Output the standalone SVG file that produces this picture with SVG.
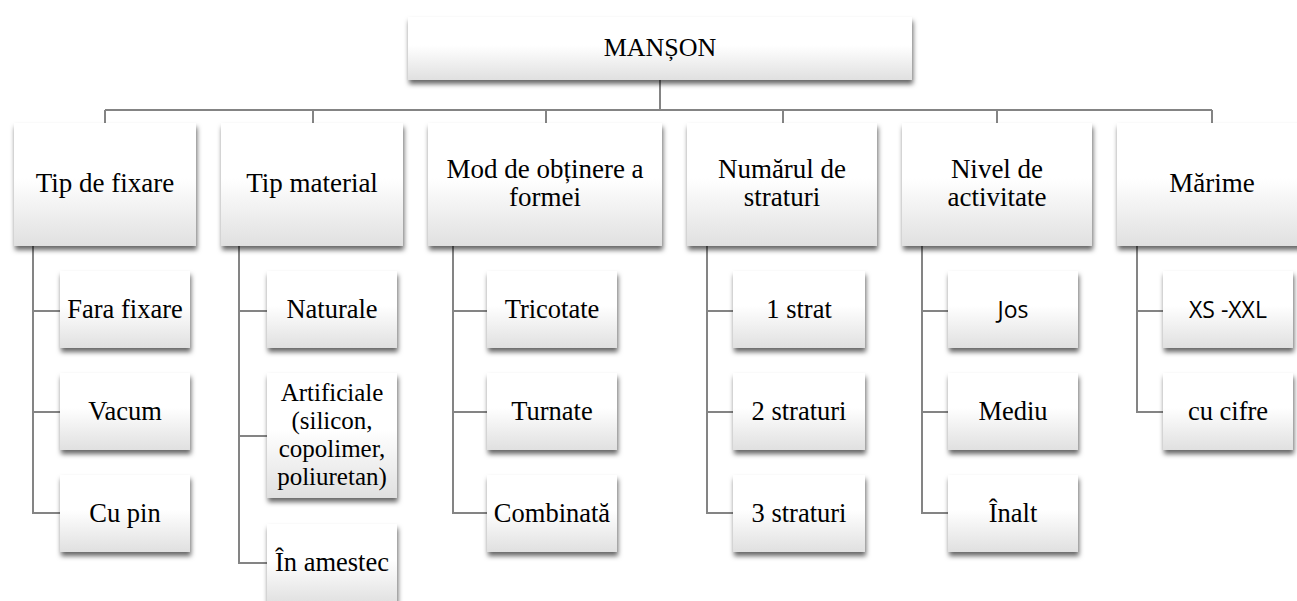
<svg xmlns="http://www.w3.org/2000/svg" width="1297" height="601" viewBox="0 0 1297 601">
<defs>
<linearGradient id="g" x1="0" y1="0" x2="0" y2="1">
<stop offset="0" stop-color="#ffffff"/>
<stop offset="0.45" stop-color="#ffffff"/>
<stop offset="1" stop-color="#e0e0e0"/>
</linearGradient>
<filter id="sh" x="-10%" y="-10%" width="125%" height="135%">
<feGaussianBlur in="SourceAlpha" stdDeviation="2.4"/>
<feOffset dx="1" dy="3.5" result="b"/>
<feFlood flood-color="#000" flood-opacity="0.6"/>
<feComposite in2="b" operator="in"/>
<feMerge><feMergeNode/><feMergeNode in="SourceGraphic"/></feMerge>
</filter>
<style>
.box{fill:url(#g);filter:url(#sh);}
.t{font-family:'Liberation Serif',Tinos,'DejaVu Serif',serif;font-size:26.5px;fill:#000;text-anchor:middle;}
.h{font-size:27px;}
.r{font-size:26px;}
.m{font-size:25px;}
.s{font-family:'Open Sans','Liberation Sans',sans-serif;font-size:23px;fill:#000;text-anchor:middle;}
.c{fill:none;stroke:#848484;stroke-width:2;}
</style>
</defs>
<rect width="1297" height="601" fill="#fff"/>
<g id="connectors">
<path class="c" d="M660 80V110M105 110H1212M105 110V123M313 110V123M546 110V123M783 110V123M997 110V123M1212 110V123"/>
<path class="c" d="M33 246V513H60M33 311H60M33 412H60"/>
<path class="c" d="M239 246V563H267M239 311H267M239 436H267"/>
<path class="c" d="M453 246V513H487M453 311H487M453 412H487"/>
<path class="c" d="M707 246V513H733M707 311H733M707 412H733"/>
<path class="c" d="M922 246V513H948M922 311H948M922 412H948"/>
<path class="c" d="M1137 246V412H1163M1137 311H1163"/>
</g>
<g id="root"><rect class="box" x="408" y="17" width="504" height="63"/><text class="t r" x="660" y="56">MANȘON</text></g>
<g id="n1"><rect class="box" x="14" y="123" width="182" height="123"/><text class="t h" x="105" y="192">Tip de fixare</text></g>
<g id="n2"><rect class="box" x="221" y="123" width="182" height="123"/><text class="t h" x="312" y="192">Tip material</text></g>
<g id="n3"><rect class="box" x="428" y="123" width="234" height="123"/><text class="t h" x="545" y="178">Mod de obținere a</text><text class="t h" x="545" y="206">formei</text></g>
<g id="n4"><rect class="box" x="687" y="123" width="190" height="123"/><text class="t h" x="782" y="178">Numărul de</text><text class="t h" x="782" y="206">straturi</text></g>
<g id="n5"><rect class="box" x="902" y="123" width="190" height="123"/><text class="t h" x="997" y="178">Nivel de</text><text class="t h" x="997" y="206">activitate</text></g>
<g id="n6"><rect class="box" x="1117" y="123" width="190" height="123"/><text class="t h" x="1212" y="192">Mărime</text></g>

<g id="c11"><rect class="box" x="60" y="271" width="130" height="77"/><text class="t" x="125" y="318">Fara fixare</text></g>
<g id="c12"><rect class="box" x="60" y="373" width="130" height="77"/><text class="t" x="125" y="420">Vacum</text></g>
<g id="c13"><rect class="box" x="60" y="475" width="130" height="77"/><text class="t" x="125" y="522">Cu pin</text></g>

<g id="c21"><rect class="box" x="267" y="271" width="130" height="77"/><text class="t" x="332" y="318">Naturale</text></g>
<g id="c22"><rect class="box" x="267" y="373" width="130" height="125"/><text class="t m" x="332" y="401">Artificiale</text><text class="t m" x="332" y="429">(silicon,</text><text class="t m" x="332" y="457">copolimer,</text><text class="t m" x="332" y="485">poliuretan)</text></g>
<g id="c23"><rect class="box" x="267" y="524" width="130" height="80"/><text class="t" x="332" y="571">În amestec</text></g>

<g id="c31"><rect class="box" x="487" y="271" width="130" height="77"/><text class="t" x="552" y="318">Tricotate</text></g>
<g id="c32"><rect class="box" x="487" y="373" width="130" height="77"/><text class="t" x="552" y="420">Turnate</text></g>
<g id="c33"><rect class="box" x="487" y="475" width="130" height="77"/><text class="t" x="552" y="522">Combinată</text></g>

<g id="c41"><rect class="box" x="733" y="271" width="132" height="77"/><text class="t" x="799" y="318">1 strat</text></g>
<g id="c42"><rect class="box" x="733" y="373" width="132" height="77"/><text class="t" x="799" y="420">2 straturi</text></g>
<g id="c43"><rect class="box" x="733" y="475" width="132" height="77"/><text class="t" x="799" y="522">3 straturi</text></g>

<g id="c51"><rect class="box" x="948" y="271" width="130" height="77"/><text class="s" x="1013" y="318">Jos</text></g>
<g id="c52"><rect class="box" x="948" y="373" width="130" height="77"/><text class="t" x="1013" y="420">Mediu</text></g>
<g id="c53"><rect class="box" x="948" y="475" width="130" height="77"/><text class="t" x="1013" y="522">Înalt</text></g>

<g id="c61"><rect class="box" x="1163" y="271" width="130" height="77"/><text class="s" x="1228" y="318">XS -XXL</text></g>
<g id="c62"><rect class="box" x="1163" y="373" width="130" height="77"/><text class="t" x="1228" y="420">cu cifre</text></g>
</svg>
